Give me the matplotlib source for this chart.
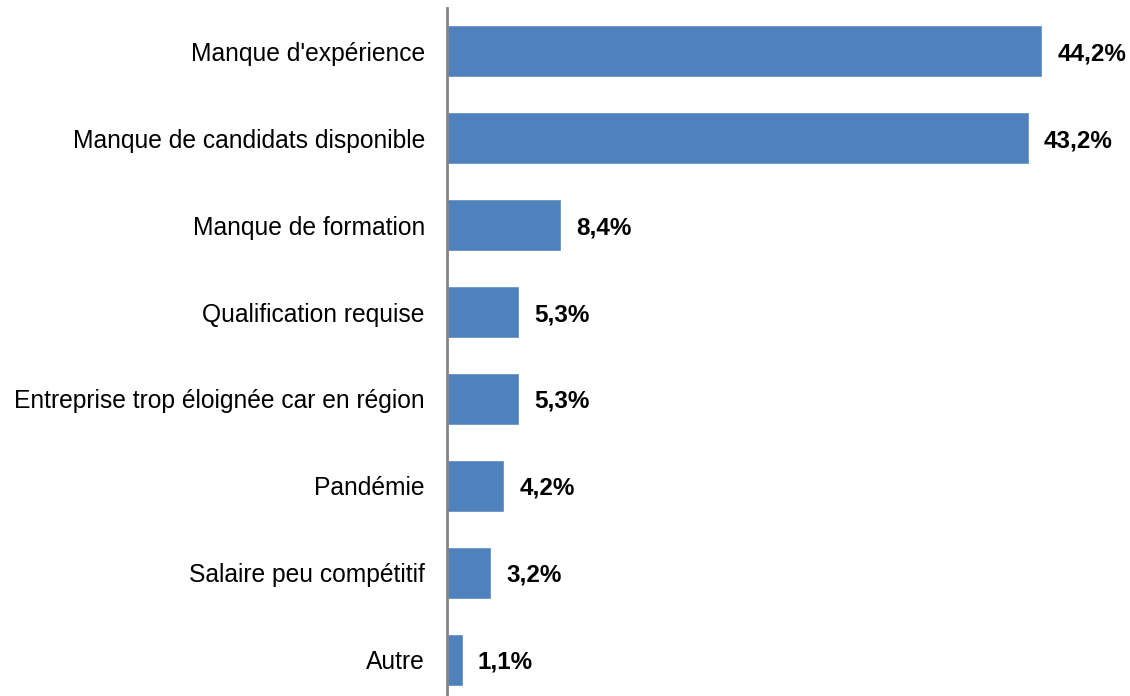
import matplotlib.pyplot as plt

plt.rcParams['font.family'] = ['Liberation Sans', 'DejaVu Sans']

# données
categories = ["Manque d'expérience", "Manque de candidats disponible", "Manque de formation",
              "Qualification requise", "Entreprise trop éloignée car en région", "Pandémie",
              "Salaire peu compétitif", "Autre"]
values = [44.2, 43.2, 8.4, 5.3, 5.3, 4.2, 3.2, 1.1]
value_labels = ["44,2%", "43,2%", "8,4%", "5,3%", "5,3%", "4,2%", "3,2%", "1,1%"]

fig = plt.figure(figsize=(11.3, 6.96), dpi=100)
ax = fig.add_axes([447/1130, -7/696, 672/1130, 695/696])

pos = list(range(len(categories)))
ax.barh(pos, values, height=0.576, color='#4F81BD', edgecolor='#6A94C8', linewidth=0.6)
ax.set_ylim(len(categories) - 0.5, -0.5)
ax.set_xlim(0, 50)

for p, v, t in zip(pos, values, value_labels):
    ax.text(v + 1.2, p, t, va='center_baseline', ha='left', fontsize=17.5, fontweight='bold', color='black')

ax.set_yticks(pos)
ax.set_yticklabels(categories, fontsize=17.75)
ax.tick_params(axis='y', length=0, pad=16)
ax.set_xticks([])

for s in ['top', 'right', 'bottom']:
    ax.spines[s].set_visible(False)
ax.spines['left'].set_color('#868686')
ax.spines['left'].set_linewidth(2)

fig.savefig('out.png', dpi=100)
